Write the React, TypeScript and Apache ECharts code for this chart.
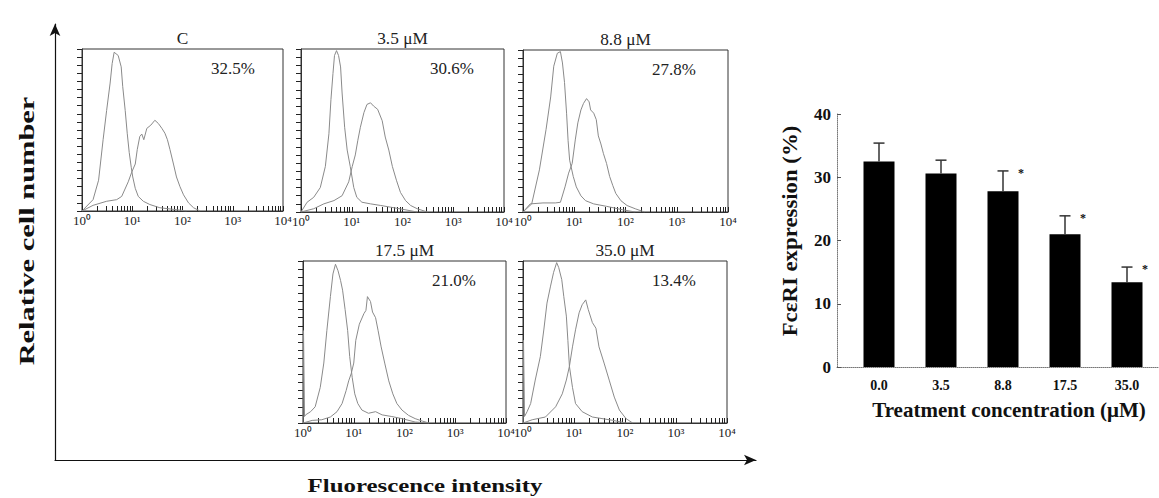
import { useEffect, useRef } from 'react';
import * as echarts from 'echarts';

// ---------- data ----------
const concentrations = ['0.0', '3.5', '8.8', '17.5', '35.0'];
const panelTitles = ['C', '3.5 μM', '8.8 μM', '17.5 μM', '35.0 μM'];
const expressionPct = [32.5, 30.6, 27.8, 21.0, 13.4];
const expressionErr = [2.9, 2.1, 3.2, 2.9, 2.4];
const significant = [false, false, true, true, true];
const decadeTickLabels = ['10⁰', '10¹', '10²', '10³', '10⁴'];

// histogram curves: [log10 fluorescence, relative cell number (% of panel height)]
const controlC = [[0, 0], [0.22, 7], [0.33, 19], [0.42, 44], [0.49, 62], [0.56, 79], [0.6, 91], [0.64, 98], [0.72, 96], [0.78, 89], [0.81, 77], [0.86, 62], [0.9, 48], [0.94, 36], [0.98, 27], [1.01, 21], [1.06, 14], [1.12, 9], [1.22, 6], [1.35, 4], [1.55, 2], [1.82, 1], [2.08, 0]];
const stainedC = [[0, 0], [0.22, 3.5], [0.49, 6], [0.69, 7], [0.79, 9], [0.92, 18], [0.99, 24], [1.06, 29], [1.1, 38], [1.15, 46], [1.19, 47.5], [1.23, 44], [1.29, 51], [1.37, 53], [1.45, 56], [1.52, 54], [1.59, 51], [1.65, 48], [1.7, 44], [1.75, 38], [1.82, 29], [1.88, 21], [1.95, 15], [2.02, 10], [2.12, 5], [2.22, 2], [2.35, 0]];

const control3p5 = [[0, 0], [0.12, 6], [0.25, 9], [0.38, 15], [0.48, 28], [0.55, 48], [0.59, 69], [0.63, 85], [0.66, 96], [0.7, 99], [0.74, 96], [0.78, 89], [0.81, 73], [0.86, 52], [0.91, 38], [0.97, 28], [1.04, 15], [1.1, 9], [1.2, 6], [1.37, 5], [1.57, 4], [1.76, 3], [2.03, 1.5], [2.29, 0]];
const stained3p5 = [[0, 0], [0.25, 2], [0.45, 5], [0.65, 7], [0.81, 10], [0.94, 18.5], [1.01, 28], [1.07, 35], [1.12, 44], [1.17, 52], [1.24, 61], [1.3, 66], [1.37, 67], [1.43, 65], [1.51, 63], [1.6, 56], [1.66, 46], [1.73, 38], [1.8, 28], [1.88, 19.5], [1.96, 12], [2.06, 7], [2.16, 4], [2.29, 2], [2.49, 0]];

const control8p8 = [[0, 0], [0.17, 5], [0.32, 26], [0.45, 51], [0.54, 71], [0.6, 90], [0.67, 98], [0.73, 99], [0.77, 92], [0.81, 80], [0.85, 61], [0.88, 44], [0.91, 32], [0.98, 22], [1.04, 15.5], [1.13, 10], [1.22, 7], [1.38, 5], [1.63, 3.5], [1.94, 1.4], [2.19, 0]];
const stained8p8 = [[0, 0], [0.14, 5], [0.39, 5.6], [0.63, 5.6], [0.73, 6], [0.82, 15.5], [0.89, 24], [0.96, 30], [1.02, 44.5], [1.07, 55], [1.13, 63], [1.18, 67], [1.24, 70], [1.29, 68], [1.32, 63], [1.38, 61], [1.43, 57], [1.47, 47], [1.52, 42], [1.57, 36], [1.63, 30], [1.69, 22], [1.75, 16.5], [1.81, 11.5], [1.91, 7], [2.03, 4], [2.19, 2], [2.37, 0]];

const control17p5 = [[0, 0], [0.01, 57], [0.03, 4], [0.05, 5], [0.15, 7], [0.24, 10], [0.34, 22], [0.41, 37], [0.47, 57], [0.54, 78], [0.59, 92], [0.64, 98], [0.69, 94], [0.74, 88], [0.78, 82], [0.83, 70], [0.88, 57], [0.92, 41], [0.97, 28], [1.02, 18], [1.08, 12], [1.16, 8], [1.29, 6], [1.43, 7], [1.56, 5], [1.75, 4], [1.95, 2.7], [2.21, 0.6], [2.48, 0]];
const stained17p5 = [[0, 0], [0.18, 1.6], [0.37, 2], [0.54, 3.7], [0.67, 7], [0.77, 12], [0.85, 20], [0.9, 26], [0.95, 30.5], [1, 37], [1.04, 51], [1.11, 61], [1.2, 67.5], [1.24, 69.5], [1.27, 78], [1.33, 75], [1.37, 68.5], [1.43, 65], [1.48, 57], [1.54, 47], [1.61, 37], [1.69, 26], [1.77, 18], [1.85, 12], [1.95, 8], [2.08, 4.7], [2.21, 2.7], [2.35, 1.2], [2.48, 0]];

const control35p0 = [[0, 0], [0.01, 51], [0.03, 4], [0.08, 7], [0.15, 12], [0.24, 26.5], [0.34, 41], [0.41, 58], [0.47, 74], [0.54, 84.5], [0.6, 93], [0.66, 99], [0.7, 96], [0.76, 88.5], [0.8, 78], [0.85, 66], [0.88, 51], [0.91, 35], [0.97, 22], [1.03, 12], [1.16, 7], [1.36, 3.7], [1.75, 1.7], [2.02, 0]];
const stained35p0 = [[0, 0], [0.18, 2], [0.44, 3.7], [0.64, 10], [0.77, 18], [0.85, 26.5], [0.91, 35], [0.97, 47], [1.03, 57.5], [1.1, 68], [1.16, 73], [1.23, 76], [1.28, 70], [1.36, 62], [1.43, 58.5], [1.49, 47], [1.59, 37], [1.69, 26.5], [1.79, 16], [1.89, 8], [2.02, 2.7], [2.15, 0]];

const histograms = [
  [controlC, stainedC],
  [control3p5, stained3p5],
  [control8p8, stained8p8],
  [control17p5, stained17p5],
  [control35p0, stained35p0],
];

// ---------- layout & style ----------
const panelBoxes = [
  { left: 82, top: 49, width: 201, height: 162 },
  { left: 301, top: 49, width: 203, height: 163 },
  { left: 523, top: 50, width: 205, height: 162 },
  { left: 303, top: 261, width: 203, height: 162 },
  { left: 523, top: 261, width: 204, height: 162 },
];

const SERIF = '"Liberation Serif", "Times New Roman", Times, serif';
const CURVE = '#8a8a8a';
const INK = '#222';

const logTicks: number[] = [];
for (let d = 0; d < 4; d++) for (let k = 1; k <= 9; k++) logTicks.push(d + Math.log10(k));
logTicks.push(4);

function buildOption() {
  const grids: any[] = panelBoxes.map((b) => ({
    left: b.left, top: b.top, width: b.width, height: b.height,
    show: true, borderColor: '#333', borderWidth: 1, backgroundColor: 'transparent',
  }));
  grids.push({ left: 55, top: 24, width: 701, height: 436 }); // 5: big arrow frame
  grids.push({ left: 837, top: 114, width: 322, height: 253 }); // 6: bar frame axes
  grids.push({ left: 848, top: 114, width: 310, height: 253 }); // 7: bars

  const xAxis: any[] = panelBoxes.map((_, i) => ({
    type: 'value', gridIndex: i, min: 0, max: 4, interval: 1,
    axisLine: { show: true, lineStyle: { color: '#333', width: 1 } },
    axisTick: { show: true, inside: true, length: 5, customValues: logTicks, lineStyle: { color: '#222' } },
    axisLabel: {
      show: true, margin: 3, fontFamily: SERIF, fontSize: 13, color: INK,
      showMinLabel: true, showMaxLabel: true,
      formatter: (v: number) => decadeTickLabels[Math.round(v)] ?? '',
    },
    splitLine: { show: false },
  }));
  const yAxis: any[] = panelBoxes.map((_, i) => ({
    type: 'value', gridIndex: i, min: 0, max: 100, interval: 5,
    axisLine: { show: true, lineStyle: { color: '#333', width: 1 } },
    axisTick: { show: true, inside: false, length: 5, lineStyle: { color: '#222' } },
    axisLabel: { show: false },
    splitLine: { show: false },
  }));

  const arrowAxis = (gridIndex: number) => ({
    type: 'value', gridIndex, min: 0, max: 1,
    axisLine: { show: true, symbol: ['none', 'arrow'], symbolSize: [8, 12], lineStyle: { color: '#111', width: 1.2 } },
    axisTick: { show: false }, axisLabel: { show: false }, splitLine: { show: false },
  });
  xAxis.push(arrowAxis(5));
  yAxis.push(arrowAxis(5));

  xAxis.push({
    type: 'value', gridIndex: 6, min: 0, max: 1,
    axisLine: { show: true, lineStyle: { color: '#777', type: 'dotted', width: 1 } },
    axisTick: { show: false }, axisLabel: { show: false }, splitLine: { show: false },
  });
  yAxis.push({
    type: 'value', gridIndex: 6, min: 0, max: 40, interval: 10,
    axisLine: { show: true, lineStyle: { color: '#777', type: 'dotted', width: 1 } },
    axisTick: { show: true, inside: true, length: 4, lineStyle: { color: '#555' } },
    axisLabel: { fontFamily: SERIF, fontWeight: 'bold', fontSize: 17, color: '#111', margin: 6 },
    splitLine: { show: false },
  });

  xAxis.push({
    type: 'category', gridIndex: 7, data: concentrations,
    axisLine: { show: false }, axisTick: { show: false },
    axisLabel: { fontFamily: SERIF, fontWeight: 'bold', fontSize: 14, color: '#111', margin: 11 },
  });
  yAxis.push({ type: 'value', gridIndex: 7, min: 0, max: 40, show: false });

  const series: any[] = [];
  histograms.forEach((curves, i) => {
    curves.forEach((curve) => {
      series.push({
        type: 'line', xAxisIndex: i, yAxisIndex: i, data: curve,
        showSymbol: false, symbol: 'none', silent: true,
        lineStyle: { color: CURVE, width: 1 },
      });
    });
  });

  series.push({
    type: 'bar', xAxisIndex: 7, yAxisIndex: 7, data: expressionPct,
    barWidth: 31, itemStyle: { color: '#000' }, silent: true,
  });

  series.push({
    type: 'custom', xAxisIndex: 7, yAxisIndex: 7, z: 5, silent: true,
    data: expressionPct.map((v, i) => [i, v, expressionErr[i], significant[i] ? 1 : 0]),
    encode: { x: 0, y: 1 },
    renderItem: (_params: any, api: any) => {
      const i = api.value(0);
      const v = api.value(1);
      const e = api.value(2);
      const sig = api.value(3);
      const base = api.coord([i, v]);
      const top = api.coord([i, v + e]);
      const stroke = { stroke: '#333', lineWidth: 1.5 };
      const children: any[] = [
        { type: 'line', shape: { x1: base[0], y1: base[1], x2: top[0], y2: top[1] }, style: stroke },
        { type: 'line', shape: { x1: top[0] - 5.5, y1: top[1], x2: top[0] + 5.5, y2: top[1] }, style: stroke },
      ];
      if (sig) {
        children.push({
          type: 'text', x: top[0] + 18, y: top[1] + 2,
          style: { text: '*', fill: '#111', font: `bold 12px ${SERIF}`, align: 'center', verticalAlign: 'middle' },
        });
      }
      return { type: 'group', children };
    },
  });

  const graphic: any[] = [];
  panelBoxes.forEach((b, i) => {
    graphic.push({
      type: 'text', x: b.left + b.width / 2, y: b.top - 10, scaleX: 1.08,
      style: { text: panelTitles[i], font: `16px ${SERIF}`, fill: INK, align: 'center', verticalAlign: 'middle' },
    });
    graphic.push({
      type: 'text', x: b.left + 151, y: b.top + 20, scaleX: 1.06,
      style: { text: expressionPct[i].toFixed(1) + '%', font: `16px ${SERIF}`, fill: INK, align: 'center', verticalAlign: 'middle' },
    });
  });
  graphic.push({
    type: 'text', x: 27, y: 231, rotation: Math.PI / 2, scaleX: 1.45,
    style: { text: 'Relative cell number', font: `bold 21px ${SERIF}`, fill: '#111', align: 'center', verticalAlign: 'middle' },
  });
  graphic.push({
    type: 'text', x: 425, y: 486, scaleX: 1.38,
    style: { text: 'Fluorescence intensity', font: `bold 18px ${SERIF}`, fill: '#111', align: 'center', verticalAlign: 'middle' },
  });
  graphic.push({
    type: 'text', x: 790, y: 231, rotation: Math.PI / 2, scaleX: 1.14,
    style: { text: 'FcεRI expression (%)', font: `bold 20px ${SERIF}`, fill: '#111', align: 'center', verticalAlign: 'middle' },
  });
  graphic.push({
    type: 'text', x: 1009, y: 410,
    style: { text: 'Treatment concentration (μM)', font: `bold 21px ${SERIF}`, fill: '#111', align: 'center', verticalAlign: 'middle' },
  });

  return {
    animation: false,
    backgroundColor: '#fff',
    grid: grids,
    xAxis,
    yAxis,
    series,
    graphic,
  };
}

export default function App() {
  const ref = useRef<HTMLDivElement>(null);
  useEffect(() => {
    if (!ref.current) return;
    const chart = echarts.init(ref.current, undefined, { renderer: 'svg' });
    chart.setOption(buildOption() as any);
    return () => chart.dispose();
  }, []);
  return (
    <div
      ref={ref}
      style={{ position: 'fixed', left: 0, top: 0, width: 1159, height: 498, background: '#fff' }}
    />
  );
}
